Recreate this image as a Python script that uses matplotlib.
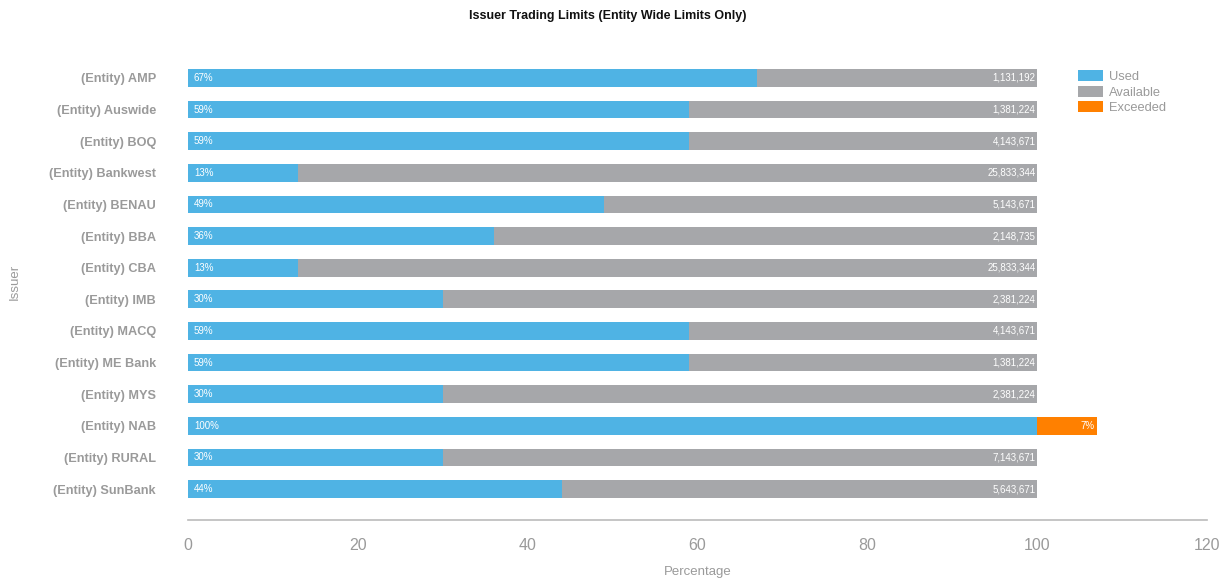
import matplotlib.pyplot as plt
import numpy as np

issuers = ["(Entity) AMP", "(Entity) Auswide", "(Entity) BOQ", "(Entity) Bankwest",
           "(Entity) BENAU", "(Entity) BBA", "(Entity) CBA", "(Entity) IMB",
           "(Entity) MACQ", "(Entity) ME Bank", "(Entity) MYS", "(Entity) NAB",
           "(Entity) RURAL", "(Entity) SunBank"]
used = [67, 59, 59, 13, 49, 36, 13, 30, 59, 59, 30, 100, 30, 44]
exceeded = [0, 0, 0, 0, 0, 0, 0, 0, 0, 0, 0, 7, 0, 0]
available_amt = ["1,131,192", "1,381,224", "4,143,671", "25,833,344", "5,143,671",
                 "2,148,735", "25,833,344", "2,381,224", "4,143,671", "1,381,224",
                 "2,381,224", "", "7,143,671", "5,643,671"]

BLUE = "#4FB3E4"
GREY = "#A6A7AA"
ORANGE = "#FF8000"
TXT = "#9A9A9A"

plt.rcParams['font.family'] = ['Liberation Sans', 'DejaVu Sans']

fig = plt.figure(figsize=(12.32, 5.81), dpi=100)
ax = fig.add_axes([188 / 1232, 1 - 520 / 581, (1207 - 188) / 1232, (520 - 47) / 581])

y = np.arange(len(issuers))
avail = [100 - u if e == 0 else 0 for u, e in zip(used, exceeded)]
h = 0.56
ax.barh(y, used, height=h, color=BLUE, label="Used")
ax.barh(y, avail, left=used, height=h, color=GREY, label="Available")
ax.barh(y, exceeded, left=used, height=h, color=ORANGE, label="Exceeded")

for i in range(len(issuers)):
    ax.text(0.7, i, f"{used[i]}%", color="white", fontsize=7, va="center", ha="left")
    if available_amt[i]:
        ax.text(99.8, i, available_amt[i], color="white", fontsize=7, va="center", ha="right")
    if exceeded[i]:
        ax.text(used[i] + exceeded[i] - 0.2, i, f"{exceeded[i]}%", color="white",
                fontsize=7, va="center", ha="right")

ax.set_xlim(0, 120)
ax.set_ylim(len(issuers) - 1 + 0.98, -0.98)
ax.set_yticks(y)
ax.set_yticklabels(issuers, fontsize=9.2, fontweight="bold", color=TXT)
ax.set_xticks(range(0, 121, 20))
ax.tick_params(axis="x", length=0, labelsize=11.5, labelcolor=TXT, pad=13)
ax.tick_params(axis="y", length=0, pad=23)
for s in ["top", "right", "left"]:
    ax.spines[s].set_visible(False)
ax.spines["bottom"].set_color("#BBBBBB")
ax.spines["bottom"].set_linewidth(1.2)

ax.set_xlabel("Percentage", fontsize=9.5, color=TXT, labelpad=9)
fig.text(15 / 1232, 1 - 282 / 581, "Issuer", rotation=90, fontsize=9.5, color=TXT,
         ha="center", va="center")
fig.text(608 / 1232, 1 - 16 / 581, "Issuer Trading Limits (Entity Wide Limits Only)",
         fontsize=9, fontweight="bold", ha="center", va="center", color="#111111")

ax.legend(loc="upper left", bbox_to_anchor=(1072 / 1232, 1 - 64 / 581),
          bbox_transform=fig.transFigure, frameon=False, fontsize=9.3,
          labelcolor=TXT, handlelength=1.9, handleheight=0.9,
          handletextpad=0.45, labelspacing=0.2, borderpad=0)

fig.savefig("out.png", dpi=100)
